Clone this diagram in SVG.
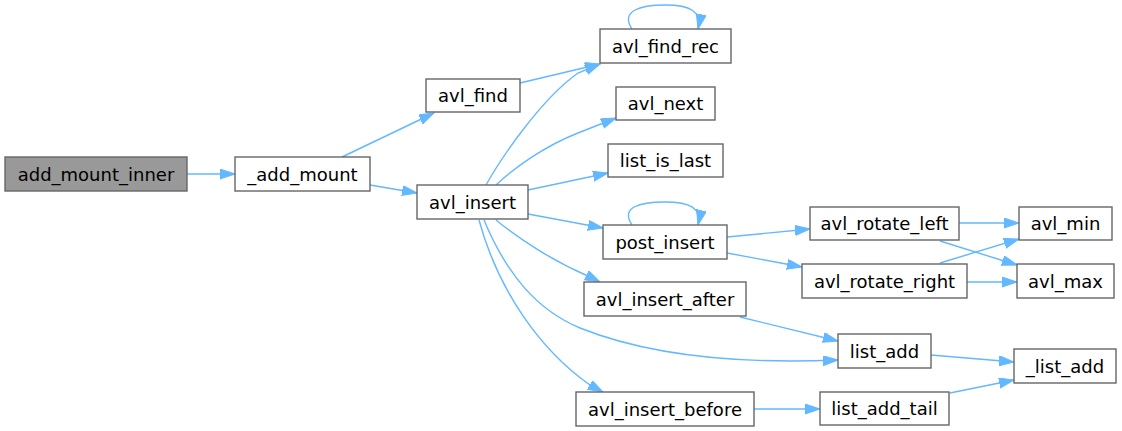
<svg xmlns="http://www.w3.org/2000/svg" width="1122" height="431" viewBox="0 0 1122 431">
<style>
.n rect{fill:#ffffff;stroke:#666666;stroke-width:1.4}
.n.root rect{fill:#999999}
.n text{font-family:"DejaVu Sans",sans-serif;font-size:18px;fill:#000000;text-anchor:middle}
.e path{fill:none;stroke:#63b8ff;stroke-width:1.4;marker-end:url(#ah)}
</style>
<defs>
<marker id="ah" markerUnits="userSpaceOnUse" markerWidth="16" markerHeight="11" refX="15" refY="5" orient="auto">
<path d="M0,0 L15,5 L0,10 z" fill="#63b8ff" stroke="#63b8ff" stroke-width="1"/>
</marker>
</defs>
<rect width="1122" height="431" fill="#ffffff"/>
<g id="edges" class="e">
<path d="M187,174 L235,174"/>
<path d="M342,157 L434,113"/>
<path d="M370,185 L417,193"/>
<path d="M520,83 L600,64"/>
<path d="M486,185 C500,160 540,100 578,73 L600,64"/>
<path d="M496,185 C515,167 545,146 578,133 L616,118"/>
<path d="M528,190 L608,173"/>
<path d="M528,214 L603,228"/>
<path d="M496,220 C520,240 555,262 590,277 L600,282"/>
<path d="M484,220 C507,275 537,310 580,328 C640,352 720,365 838,360"/>
<path d="M479,220 C498,290 540,350 590,385 L603,392"/>
<path d="M632,225 C620,207 640,202 665,202 C690,202 702,208 698,225"/>
<path d="M632,29 C620,11 640,5 665,5 C690,5 702,11 698,29"/>
<path d="M727,237 L810,229"/>
<path d="M727,253 L802,267"/>
<path d="M959,223 L1019,223"/>
<path d="M940,241 L1017,265"/>
<path d="M940,263 L1019,239"/>
<path d="M967,282 L1017,282"/>
<path d="M740,317 L838,341"/>
<path d="M931,355 L1014,362"/>
<path d="M950,393 L1014,380"/>
<path d="M754,409 L820,409"/>
</g>
<g id="add_mount_inner" class="n root"><rect x="5" y="157" width="182" height="34"/><text x="96" y="180.5">add_mount_inner</text></g>
<g id="_add_mount" class="n"><rect x="235" y="157" width="135" height="34"/><text x="302.5" y="180.5">_add_mount</text></g>
<g id="avl_find" class="n"><rect x="426" y="79" width="94" height="33"/><text x="473" y="102">avl_find</text></g>
<g id="avl_insert" class="n"><rect x="417" y="185" width="111" height="34"/><text x="472.5" y="208.5">avl_insert</text></g>
<g id="avl_find_rec" class="n"><rect x="600" y="29" width="131" height="34"/><text x="665.5" y="52.5">avl_find_rec</text></g>
<g id="avl_next" class="n"><rect x="616" y="87" width="99" height="33"/><text x="665.5" y="110">avl_next</text></g>
<g id="list_is_last" class="n"><rect x="608" y="144" width="115" height="33"/><text x="665.5" y="167">list_is_last</text></g>
<g id="post_insert" class="n"><rect x="603" y="225" width="124" height="34"/><text x="665" y="248.5">post_insert</text></g>
<g id="avl_insert_after" class="n"><rect x="584" y="282" width="162" height="34"/><text x="665" y="305.5">avl_insert_after</text></g>
<g id="avl_insert_before" class="n"><rect x="576" y="392" width="178" height="34"/><text x="665" y="415.5">avl_insert_before</text></g>
<g id="avl_rotate_left" class="n"><rect x="810" y="207" width="149" height="33"/><text x="884.5" y="230">avl_rotate_left</text></g>
<g id="avl_min" class="n"><rect x="1019" y="207" width="93" height="33"/><text x="1065.5" y="230">avl_min</text></g>
<g id="avl_rotate_right" class="n"><rect x="802" y="264" width="165" height="34"/><text x="884.5" y="287.5">avl_rotate_right</text></g>
<g id="avl_max" class="n"><rect x="1017" y="264" width="97" height="34"/><text x="1065.5" y="287.5">avl_max</text></g>
<g id="list_add" class="n"><rect x="838" y="334" width="93" height="34"/><text x="884.5" y="357.5">list_add</text></g>
<g id="_list_add" class="n"><rect x="1014" y="349" width="102" height="34"/><text x="1065" y="372.5">_list_add</text></g>
<g id="list_add_tail" class="n"><rect x="820" y="392" width="129" height="33"/><text x="884.5" y="415">list_add_tail</text></g>
</svg>
